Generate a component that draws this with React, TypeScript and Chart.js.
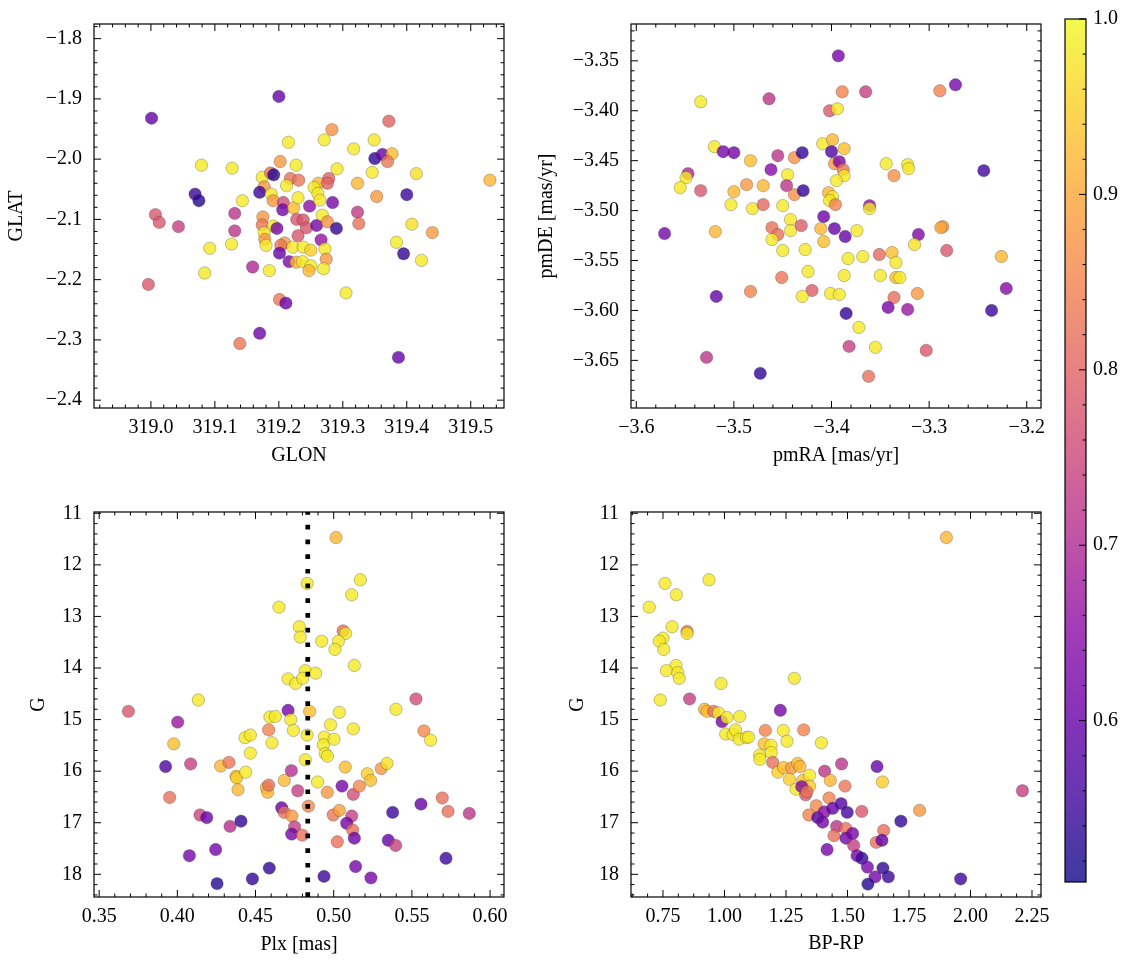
import React, { useEffect, useRef } from "react";
import { Chart, registerables } from "chart.js";

Chart.register(...registerables);

// ---------------- data ----------------
// Panel 1: GLON / GLAT
const glonValues = [319.200,319.001,319.372,319.283,319.215,319.271,319.317,319.349,319.350,319.362,319.377,319.370,319.079,319.127,319.202,319.227,319.291,319.346,319.415,319.530,319.174,319.187,319.192,319.218,319.231,319.212,319.262,319.255,319.278,319.276,319.323,319.177,319.170,319.188,319.069,319.075,319.143,319.191,319.207,319.206,319.223,319.230,319.248,319.261,319.264,319.284,319.353,319.400,319.007,319.013,319.043,319.131,319.131,319.175,319.174,319.191,319.197,319.228,319.238,319.243,319.259,319.268,319.276,319.290,319.323,319.325,319.408,319.440,319.177,319.178,319.180,319.092,319.126,319.209,319.203,319.201,319.222,319.230,319.238,319.250,319.266,319.272,319.274,319.216,319.227,319.237,319.250,319.247,319.270,319.384,319.395,319.423,319.159,319.185,319.084,318.996,319.305,319.201,319.211,319.170,319.139,319.387];
const glatValues = [-1.896,-1.932,-1.937,-1.951,-1.972,-1.968,-1.983,-1.968,-1.999,-1.992,-1.991,-2.004,-2.010,-2.015,-2.004,-2.010,-2.016,-2.022,-2.024,-2.035,-2.030,-2.023,-2.026,-2.032,-2.035,-2.044,-2.040,-2.047,-2.032,-2.040,-2.040,-2.046,-2.055,-2.058,-2.058,-2.069,-2.069,-2.069,-2.072,-2.084,-2.081,-2.064,-2.078,-2.057,-2.068,-2.072,-2.062,-2.059,-2.092,-2.105,-2.112,-2.090,-2.119,-2.096,-2.109,-2.111,-2.115,-2.100,-2.101,-2.114,-2.110,-2.093,-2.104,-2.115,-2.088,-2.107,-2.108,-2.122,-2.122,-2.133,-2.143,-2.148,-2.141,-2.139,-2.143,-2.156,-2.146,-2.127,-2.146,-2.151,-2.134,-2.149,-2.166,-2.170,-2.171,-2.170,-2.177,-2.185,-2.182,-2.138,-2.157,-2.168,-2.179,-2.185,-2.189,-2.208,-2.222,-2.233,-2.239,-2.289,-2.306,-2.329];
const posProb = [0.60,0.60,0.80,0.87,0.98,0.98,0.98,0.98,0.54,0.60,0.93,0.83,0.98,0.98,0.88,0.98,0.98,0.98,0.97,0.92,0.98,0.82,0.53,0.82,0.83,0.98,0.92,0.98,0.80,0.80,0.92,0.88,0.55,0.98,0.55,0.53,0.98,0.88,0.76,0.62,0.93,0.98,0.65,0.98,0.98,0.62,0.88,0.55,0.78,0.78,0.74,0.72,0.72,0.88,0.83,0.98,0.62,0.78,0.78,0.78,0.62,0.98,0.87,0.54,0.73,0.82,0.97,0.88,0.98,0.88,0.98,0.98,0.98,0.88,0.83,0.60,0.98,0.78,0.98,0.95,0.66,0.98,0.88,0.63,0.92,0.98,0.98,0.92,0.98,0.98,0.54,0.98,0.70,0.98,0.98,0.78,0.98,0.83,0.61,0.61,0.83,0.60];

// Panel 2: pmRA / pmDE
const pmraValues = [-3.393,-3.273,-3.289,-3.389,-3.365,-3.534,-3.464,-3.402,-3.394,-3.409,-3.399,-3.387,-3.520,-3.511,-3.500,-3.455,-3.438,-3.430,-3.400,-3.483,-3.397,-3.392,-3.388,-3.387,-3.395,-3.344,-3.322,-3.321,-3.336,-3.244,-3.547,-3.549,-3.555,-3.534,-3.462,-3.445,-3.446,-3.438,-3.429,-3.500,-3.487,-3.470,-3.403,-3.399,-3.402,-3.396,-3.361,-3.361,-3.503,-3.481,-3.470,-3.450,-3.408,-3.571,-3.519,-3.461,-3.455,-3.461,-3.442,-3.442,-3.431,-3.411,-3.397,-3.386,-3.408,-3.374,-3.311,-3.286,-3.288,-3.315,-3.450,-3.427,-3.383,-3.368,-3.351,-3.338,-3.334,-3.282,-3.226,-3.424,-3.387,-3.350,-3.334,-3.330,-3.451,-3.518,-3.483,-3.420,-3.430,-3.401,-3.392,-3.312,-3.336,-3.342,-3.322,-3.221,-3.236,-3.385,-3.372,-3.382,-3.355,-3.303,-3.528,-3.473,-3.362];
const pmdeValues = [-3.345,-3.374,-3.380,-3.381,-3.381,-3.391,-3.388,-3.400,-3.398,-3.433,-3.429,-3.438,-3.436,-3.441,-3.442,-3.445,-3.447,-3.442,-3.441,-3.450,-3.453,-3.451,-3.459,-3.465,-3.470,-3.453,-3.454,-3.458,-3.465,-3.460,-3.463,-3.467,-3.477,-3.480,-3.459,-3.464,-3.475,-3.484,-3.480,-3.481,-3.474,-3.475,-3.482,-3.486,-3.490,-3.494,-3.495,-3.498,-3.494,-3.498,-3.494,-3.495,-3.506,-3.523,-3.521,-3.517,-3.524,-3.529,-3.509,-3.520,-3.515,-3.518,-3.518,-3.526,-3.531,-3.520,-3.524,-3.516,-3.517,-3.534,-3.540,-3.539,-3.548,-3.546,-3.544,-3.542,-3.552,-3.540,-3.546,-3.561,-3.565,-3.565,-3.567,-3.567,-3.567,-3.586,-3.581,-3.580,-3.586,-3.583,-3.584,-3.583,-3.587,-3.597,-3.599,-3.578,-3.600,-3.603,-3.617,-3.636,-3.637,-3.640,-3.647,-3.663,-3.666];
const pmProb = [0.62,0.62,0.85,0.85,0.74,0.98,0.72,0.78,0.98,0.98,0.92,0.93,0.98,0.62,0.62,0.72,0.87,0.54,0.57,0.93,0.88,0.63,0.83,0.98,0.98,0.98,0.98,0.98,0.87,0.56,0.70,0.98,0.98,0.78,0.64,0.98,0.72,0.87,0.54,0.92,0.88,0.92,0.92,0.98,0.98,0.85,0.66,0.98,0.98,0.98,0.81,0.98,0.61,0.62,0.92,0.82,0.82,0.98,0.98,0.98,0.79,0.92,0.60,0.60,0.93,0.98,0.63,0.88,0.90,0.97,0.98,0.98,0.98,0.98,0.81,0.93,0.98,0.78,0.92,0.98,0.98,0.98,0.93,0.98,0.83,0.60,0.85,0.79,0.98,0.98,0.98,0.88,0.82,0.62,0.67,0.64,0.55,0.54,0.98,0.74,0.98,0.78,0.72,0.54,0.82];

// Panel 3: Plx / G
const plxValues = [0.5015,0.483,0.517,0.5115,0.465,0.478,0.4786,0.506,0.5076,0.4923,0.503,0.5008,0.5132,0.4818,0.4884,0.4708,0.4757,0.4801,0.4134,0.3687,0.4708,0.4846,0.4725,0.5036,0.4592,0.4627,0.498,0.4742,0.5125,0.5398,0.5526,0.5577,0.562,0.4002,0.3977,0.4433,0.4467,0.4584,0.4605,0.483,0.494,0.4934,0.5002,0.4946,0.496,0.4467,0.4818,0.3925,0.4085,0.4277,0.433,0.4375,0.4379,0.4437,0.4388,0.3951,0.4569,0.4578,0.4584,0.4684,0.4729,0.477,0.4897,0.4959,0.5053,0.5074,0.5125,0.5164,0.5215,0.5236,0.5304,0.5341,0.4667,0.4684,0.4733,0.475,0.4731,0.4799,0.4838,0.4997,0.5036,0.5023,0.5115,0.5083,0.5121,0.5132,0.5377,0.5558,0.5694,0.5731,0.5867,0.5349,0.5396,0.5718,0.4145,0.4188,0.4337,0.4407,0.4077,0.4245,0.4588,0.448,0.4254,0.4938,0.514,0.5238];
const gPlxValues = [11.47,12.36,12.29,12.58,12.82,13.2,13.4,13.28,13.33,13.48,13.48,13.64,13.95,14.05,14.1,14.21,14.3,14.2,14.62,14.84,14.82,14.84,15.0,14.86,14.95,14.94,15.1,15.21,15.18,14.8,14.6,15.22,15.4,15.05,15.47,15.35,15.3,15.2,15.45,15.3,15.34,15.49,15.38,15.66,15.71,15.65,15.78,15.91,15.86,15.9,15.83,16.1,16.13,16.02,16.36,16.51,16.32,16.41,16.27,16.18,15.99,16.38,16.21,16.41,16.29,15.92,16.45,16.29,16.05,16.18,15.95,15.85,16.71,16.8,16.87,17.08,17.22,17.24,16.68,16.85,16.76,17.37,16.87,17.01,17.14,17.3,16.8,16.64,16.52,16.78,16.82,17.34,17.44,17.69,16.85,16.9,17.07,16.97,17.64,17.52,17.88,18.09,18.18,18.04,17.85,18.07];
const plxProb = [0.92,0.98,0.98,0.98,0.98,0.98,0.98,0.82,0.98,0.98,0.98,0.98,0.98,0.98,0.98,0.98,0.98,0.98,0.98,0.78,0.62,0.93,0.98,0.98,0.98,0.98,0.98,0.98,0.98,0.98,0.76,0.86,0.98,0.67,0.93,0.98,0.98,0.85,0.98,0.98,0.98,0.98,0.98,0.98,0.98,0.98,0.98,0.57,0.74,0.92,0.83,0.93,0.95,0.98,0.92,0.82,0.93,0.92,0.82,0.92,0.71,0.74,0.98,0.88,0.62,0.93,0.76,0.86,0.95,0.93,0.88,0.97,0.60,0.82,0.88,0.74,0.62,0.82,0.86,0.83,0.89,0.82,0.74,0.62,0.82,0.61,0.55,0.60,0.82,0.82,0.72,0.60,0.74,0.55,0.75,0.60,0.71,0.54,0.62,0.62,0.54,0.54,0.53,0.55,0.62,0.62];
const plxReference = 0.4834;

// Panel 4: BP-RP / G
const bprpValues = [1.902,0.758,0.937,0.804,0.694,0.787,0.848,0.848,0.75,0.735,0.753,0.803,0.764,0.81,0.816,0.986,1.284,0.739,0.858,1.227,0.919,0.929,0.956,0.976,0.99,1.01,1.062,1.005,1.035,1.045,1.06,1.089,1.098,1.166,1.239,1.254,1.322,1.394,1.161,1.189,1.143,1.144,1.19,1.196,1.217,1.24,1.272,1.297,1.307,1.264,1.291,1.318,1.346,1.346,1.314,1.33,1.335,1.407,1.43,1.476,1.49,1.62,1.642,1.425,1.373,1.343,1.379,1.406,1.399,1.44,1.474,1.499,1.558,1.456,1.493,1.445,1.494,1.521,1.525,1.417,1.647,1.617,1.64,1.717,1.793,2.211,1.539,1.559,1.581,1.644,1.612,1.666,1.583,1.96];
const gCmdValues = [11.47,12.36,12.29,12.58,12.82,13.2,13.29,13.33,13.42,13.48,13.64,13.95,14.05,14.09,14.2,14.3,14.2,14.62,14.6,14.82,14.8,14.84,14.84,14.87,15.04,14.96,14.94,15.28,15.29,15.2,15.38,15.35,15.34,15.21,15.21,15.42,15.2,15.45,15.47,15.5,15.69,15.77,15.64,15.83,16.02,15.93,15.94,15.85,15.91,16.16,16.35,16.18,16.08,16.29,16.3,16.46,16.4,16.0,16.18,15.86,16.29,15.91,16.21,16.52,16.67,16.85,16.9,16.79,16.99,16.72,16.63,16.8,16.78,17.07,17.11,17.25,17.3,17.21,17.44,17.52,17.15,17.38,17.34,16.97,16.76,16.38,17.64,17.69,17.86,17.88,18.05,18.05,18.19,18.09];
const cmdProb = [0.92,0.98,0.98,0.98,0.98,0.98,0.82,0.98,0.98,0.98,0.98,0.98,0.98,0.98,0.98,0.98,0.98,0.98,0.74,0.62,0.92,0.93,0.82,0.98,0.62,0.98,0.98,0.98,0.98,0.98,0.98,0.98,0.98,0.85,0.98,0.98,0.85,0.98,0.93,0.98,0.98,0.98,0.98,0.82,0.95,0.93,0.88,0.93,0.92,0.95,0.98,0.93,0.98,0.95,0.64,0.78,0.82,0.72,0.92,0.72,0.83,0.60,0.95,0.85,0.86,0.85,0.57,0.64,0.62,0.60,0.58,0.56,0.78,0.72,0.82,0.82,0.62,0.62,0.74,0.62,0.82,0.82,0.60,0.54,0.88,0.74,0.62,0.55,0.62,0.54,0.62,0.55,0.53,0.55];

// Tick labels
const glonTicks = [319.0, 319.1, 319.2, 319.3, 319.4, 319.5];
const glatTicks = [-1.8, -1.9, -2.0, -2.1, -2.2, -2.3, -2.4];
const pmraTicks = [-3.6, -3.5, -3.4, -3.3, -3.2];
const pmdeTicks = [-3.35, -3.40, -3.45, -3.50, -3.55, -3.60, -3.65];
const plxTicks = [0.35, 0.40, 0.45, 0.50, 0.55, 0.60];
const gTicks = [11, 12, 13, 14, 15, 16, 17, 18];
const bprpTicks = [0.75, 1.00, 1.25, 1.50, 1.75, 2.00, 2.25];
const probTicks = [0.6, 0.7, 0.8, 0.9, 1.0];
const probMin = 0.508;
const probMax = 1.0;

// ---------------- styling helpers ----------------
const FONT = "'Liberation Serif', 'DejaVu Serif', serif";
const FSIZE = 20;
const ALPHA = 0.8;

const plasmaStops = [
  [13, 8, 135], [65, 4, 157], [106, 0, 168], [143, 13, 164], [177, 42, 144],
  [204, 71, 120], [225, 100, 98], [242, 132, 75], [252, 166, 54], [252, 206, 37], [240, 249, 33],
];

function plasmaRGB(t: number) {
  const c = Math.min(1, Math.max(0, t)) * 10;
  const i = Math.min(9, Math.floor(c));
  const f = c - i;
  const a = plasmaStops[i], b = plasmaStops[i + 1];
  return [0, 1, 2].map((k) => Math.round(a[k] + (b[k] - a[k]) * f));
}
function probColor(p: number, alpha = ALPHA) {
  const [r, g, b] = plasmaRGB((p - probMin) / (probMax - probMin));
  return `rgba(${r},${g},${b},${alpha})`;
}
function fmt(dec: number) {
  return (v: any) => {
    const n = Number(v);
    const s = Math.abs(n).toFixed(dec);
    return (n < -1e-9 ? "\u2212" : "") + s;
  };
}

function tickList(scale: any, minor: number) {
  const majors = scale.ticks.map((t: any) => t.value);
  const out: [number, number][] = majors.map((v: number) => [v, 7]);
  if (minor) {
    const lo = Math.min(scale.min, scale.max), hi = Math.max(scale.min, scale.max);
    const k0 = Math.ceil(lo / minor - 1e-9), k1 = Math.floor(hi / minor + 1e-9);
    for (let k = k0; k <= k1; k++) {
      const v = k * minor;
      if (majors.some((m: number) => Math.abs(m - v) < minor * 0.05)) continue;
      out.push([v, 3.5]);
    }
  }
  return out;
}

const inTicksPlugin = {
  id: "inTicks",
  afterDraw(chart: any, _args: any, opts: any) {
    if (!opts || !opts.mode) return;
    const { ctx, chartArea: a } = chart;
    ctx.save();
    ctx.strokeStyle = "#000";
    ctx.lineWidth = 1;
    const line = (x1: number, y1: number, x2: number, y2: number) => {
      ctx.beginPath(); ctx.moveTo(x1, y1); ctx.lineTo(x2, y2); ctx.stroke();
    };
    const ys = chart.scales.y;
    if (opts.mode === "panel") {
      const xs = chart.scales.x;
      for (const [v, len] of tickList(xs, opts.xMinor)) {
        const p = xs.getPixelForValue(v);
        if (p < a.left || p > a.right) continue;
        line(p, a.bottom, p, a.bottom - len);
        line(p, a.top, p, a.top + len);
      }
      for (const [v, len] of tickList(ys, opts.yMinor)) {
        const p = ys.getPixelForValue(v);
        if (p < a.top || p > a.bottom) continue;
        line(a.left, p, a.left + len, p);
        line(a.right, p, a.right - len, p);
      }
    } else {
      for (const [v, len] of tickList(ys, opts.yMinor)) {
        const p = ys.getPixelForValue(v);
        if (p < a.top || p > a.bottom) continue;
        line(a.right, p, a.right - len, p);
      }
    }
    ctx.lineWidth = 1.2;
    ctx.strokeRect(a.left, a.top, a.right - a.left, a.bottom - a.top);
    ctx.restore();
  },
};
Chart.register(inTicksPlugin);

const gradientPlugin = {
  id: "cbarGradient",
  beforeDatasetsDraw(chart: any) {
    const { ctx, chartArea: a } = chart;
    const g = ctx.createLinearGradient(0, a.bottom, 0, a.top);
    plasmaStops.forEach((_, i) => {
      const [r, gg, b] = plasmaRGB(i / 10);
      g.addColorStop(i / 10, `rgba(${r},${gg},${b},${ALPHA})`);
    });
    ctx.save();
    ctx.fillStyle = g;
    ctx.fillRect(a.left, a.top, a.right - a.left, a.bottom - a.top);
    ctx.restore();
  },
};

type Spec = {
  left: number; top: number; w: number; h: number;
  padTop: number; padRight: number; yW: number; xH: number;
  xs: number[]; ys: number[]; probs: number[];
  xMin: number; xMax: number; yMin: number; yMax: number; reverseY: boolean;
  xTicks: number[]; yTicks: number[]; xMinor: number; yMinor: number; xDec: number; yDec: number;
  xTitle: string; yTitle: string; xTitlePad: number; yTitlePad: number;
  vline?: number;
};

const specs: Spec[] = [
  {
    left: 0, top: 0, w: 530, h: 488, padTop: 15, padRight: 26, yW: 94, xH: 80,
    xs: glonValues, ys: glatValues, probs: posProb,
    xMin: 318.911, xMax: 319.552, yMin: -2.413, yMax: -1.7757, reverseY: false,
    xTicks: glonTicks, yTicks: glatTicks, xMinor: 0.02, yMinor: 0.02, xDec: 1, yDec: 1,
    xTitle: "GLON", yTitle: "GLAT", xTitlePad: 20, yTitlePad: 5,
  },
  {
    left: 530, top: 0, w: 530, h: 488, padTop: 15, padRight: 19, yW: 101, xH: 80,
    xs: pmraValues, ys: pmdeValues, probs: pmProb,
    xMin: -3.6054, xMax: -3.1854, yMin: -3.6977, yMax: -3.3131, reverseY: false,
    xTicks: pmraTicks, yTicks: pmdeTicks, xMinor: 0.02, yMinor: 0.01, xDec: 1, yDec: 2,
    xTitle: "pmRA [mas/yr]", yTitle: "pmDE [mas/yr]", xTitlePad: 20, yTitlePad: 5,
  },
  {
    left: 0, top: 488, w: 530, h: 477, padTop: 15, padRight: 26, yW: 94, xH: 68,
    xs: plxValues, ys: gPlxValues, probs: plxProb,
    xMin: 0.3467, xMax: 0.6089, yMin: 10.975, yMax: 18.44, reverseY: true,
    xTicks: plxTicks, yTicks: gTicks, xMinor: 0.01, yMinor: 0.2, xDec: 2, yDec: 0,
    xTitle: "Plx [mas]", yTitle: "G", xTitlePad: 8, yTitlePad: 27, vline: plxReference,
  },
  {
    left: 530, top: 488, w: 530, h: 477, padTop: 15, padRight: 19, yW: 101, xH: 68,
    xs: bprpValues, ys: gCmdValues, probs: cmdProb,
    xMin: 0.62, xMax: 2.2866, yMin: 10.975, yMax: 18.44, reverseY: true,
    xTicks: bprpTicks, yTicks: gTicks, xMinor: 0.0625, yMinor: 0.2, xDec: 2, yDec: 0,
    xTitle: "BP-RP", yTitle: "G", xTitlePad: 9, yTitlePad: 36,
  },
];

function buildConfig(s: Spec): any {
  const datasets: any[] = [
    {
      type: "scatter",
      data: s.xs.map((x, i) => ({ x, y: s.ys[i] })),
      pointBackgroundColor: s.probs.map((p) => probColor(p)),
      pointBorderColor: "rgba(40,40,40,0.55)",
      pointBorderWidth: 0.5,
      pointRadius: 6.2,
      order: 2,
    },
  ];
  if (s.vline !== undefined) {
    datasets.push({
      type: "line",
      data: [{ x: s.vline, y: s.yMax }, { x: s.vline, y: s.yMin }],
      borderColor: "#000",
      borderWidth: 4.7,
      borderDash: [4.7, 10],
      pointRadius: 0,
      fill: false,
      order: 1,
    });
  }
  const tickFont = { family: FONT, size: FSIZE };
  return {
    type: "scatter",
    data: { datasets },
    options: {
      responsive: false,
      devicePixelRatio: 1,
      animation: false,
      events: [],
      layout: { padding: { left: 0, top: s.padTop, right: s.padRight, bottom: 0 } },
      plugins: {
        legend: { display: false },
        tooltip: { enabled: false },
        inTicks: { mode: "panel", xMinor: s.xMinor, yMinor: s.yMinor },
      },
      scales: {
        x: {
          type: "linear", min: s.xMin, max: s.xMax,
          afterBuildTicks: (sc: any) => { sc.ticks = s.xTicks.map((v) => ({ value: v })); },
          afterFit: (sc: any) => { sc.height = s.xH; },
          grid: { display: false, drawTicks: false },
          border: { display: false },
          ticks: { autoSkip: false, maxRotation: 0, padding: 8, color: "#000", font: tickFont, callback: fmt(s.xDec) },
          title: { display: true, text: s.xTitle, color: "#000", font: tickFont, padding: { top: 0, bottom: s.xTitlePad } },
        },
        y: {
          type: "linear", min: s.yMin, max: s.yMax, reverse: s.reverseY,
          afterBuildTicks: (sc: any) => { sc.ticks = s.yTicks.map((v) => ({ value: v })); },
          afterFit: (sc: any) => { sc.width = s.yW; },
          grid: { display: false, drawTicks: false },
          border: { display: false },
          ticks: { autoSkip: false, padding: 12, color: "#000", font: tickFont, callback: fmt(s.yDec) },
          title: { display: true, text: s.yTitle, color: "#000", font: tickFont, padding: { top: s.yTitlePad, bottom: 0 } },
        },
      },
    },
  };
}

function Panel({ spec }: { spec: Spec }) {
  const ref = useRef<HTMLCanvasElement | null>(null);
  useEffect(() => {
    const chart = new Chart(ref.current as HTMLCanvasElement, buildConfig(spec));
    return () => chart.destroy();
  }, [spec]);
  return (
    <canvas
      ref={ref}
      width={spec.w}
      height={spec.h}
      style={{ position: "absolute", left: spec.left, top: spec.top, width: spec.w, height: spec.h }}
    />
  );
}

function ColorBar() {
  const ref = useRef<HTMLCanvasElement | null>(null);
  useEffect(() => {
    const tickFont = { family: FONT, size: FSIZE };
    const chart = new Chart(ref.current as HTMLCanvasElement, {
      type: "scatter",
      data: { datasets: [] },
      plugins: [gradientPlugin],
      options: {
        responsive: false,
        devicePixelRatio: 1,
        animation: false,
        events: [],
        layout: { padding: { left: 5, top: 15, right: 0, bottom: 83 } },
        plugins: {
          legend: { display: false },
          tooltip: { enabled: false },
          inTicks: { mode: "cbar", yMinor: 0.02 },
        },
        scales: {
          x: { type: "linear", min: 0, max: 1, display: false },
          y: {
            type: "linear", position: "right", min: probMin, max: probMax,
            afterBuildTicks: (sc: any) => { sc.ticks = probTicks.map((v) => ({ value: v })); },
            afterFit: (sc: any) => { sc.width = 47; },
            grid: { display: false, drawTicks: false },
            border: { display: false },
            ticks: { autoSkip: false, padding: 7, color: "#000", font: tickFont, callback: fmt(1) },
          },
        },
      } as any,
    } as any);
    return () => chart.destroy();
  }, []);
  return (
    <canvas
      ref={ref}
      width={73}
      height={965}
      style={{ position: "absolute", left: 1060, top: 0, width: 73, height: 965 }}
    />
  );
}

export default function App() {
  return (
    <div style={{ position: "absolute", left: 0, top: 0, width: 1133, height: 965, background: "#fff", overflow: "hidden" }}>
      {specs.map((s, i) => (
        <Panel key={i} spec={s} />
      ))}
      <ColorBar />
    </div>
  );
}
